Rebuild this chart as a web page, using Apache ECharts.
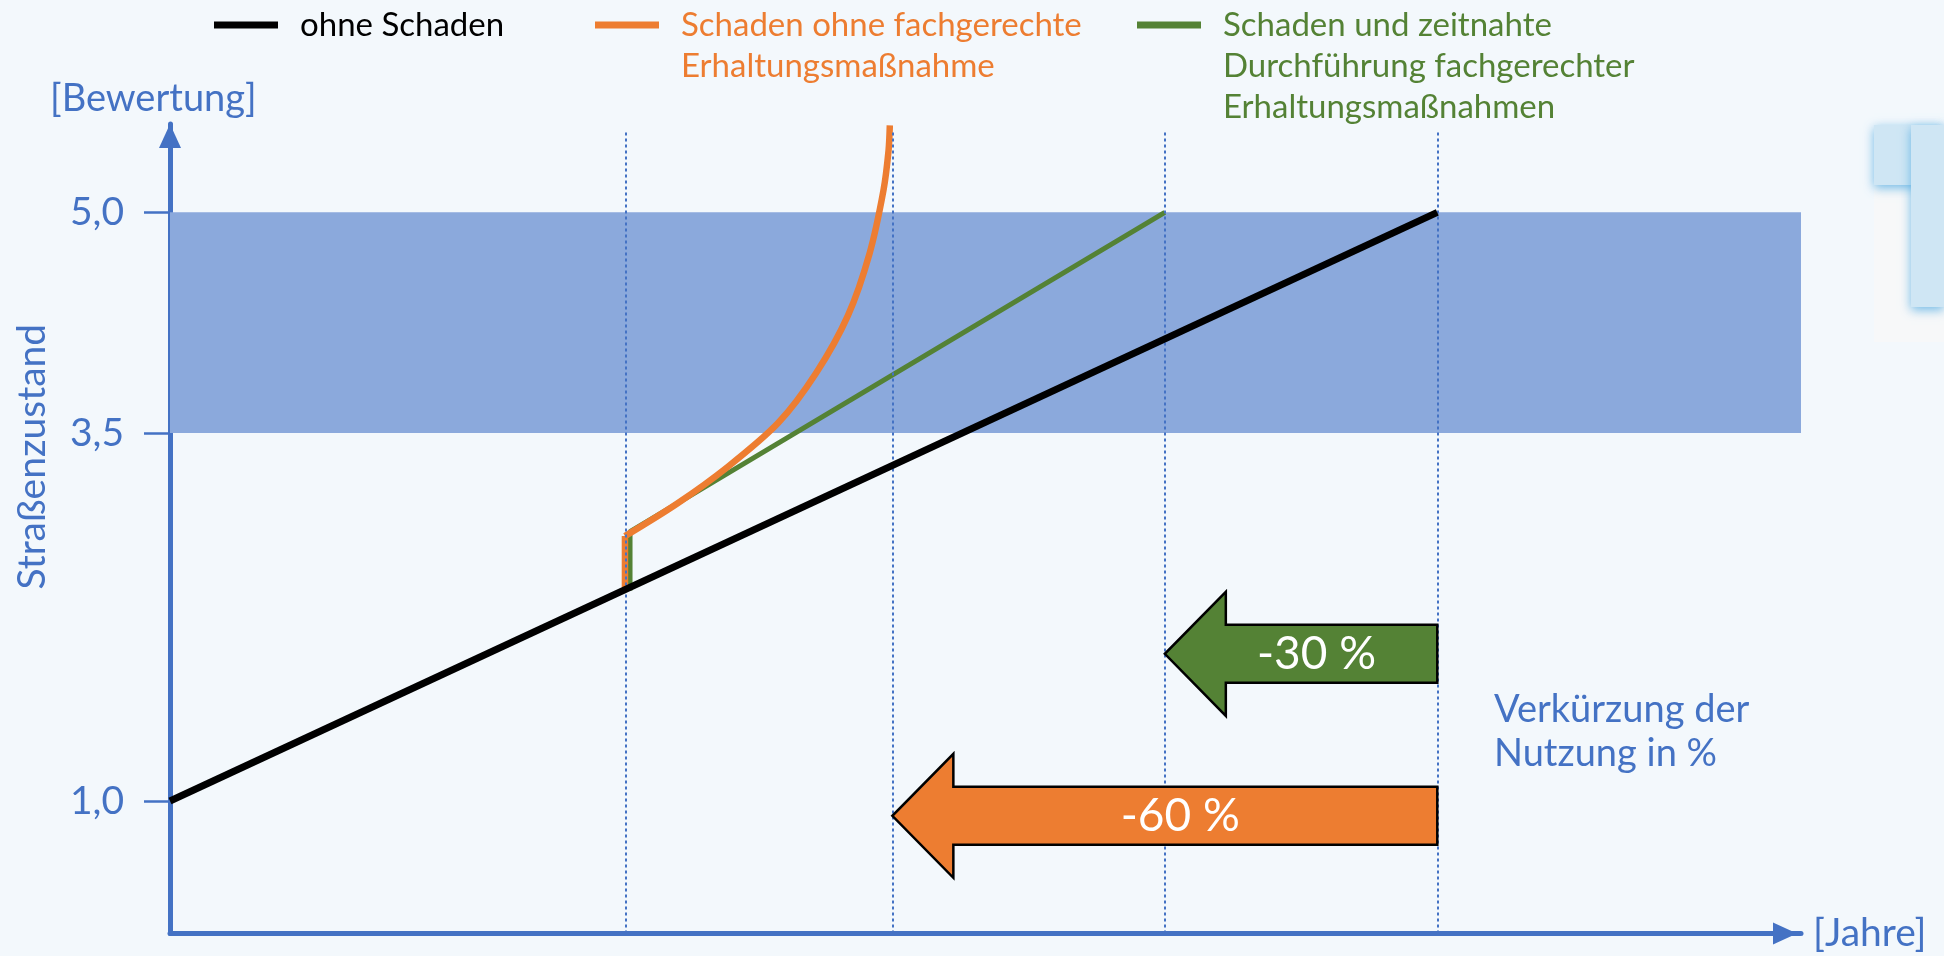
<!DOCTYPE html>
<html><head><meta charset="utf-8">
<script src="https://cdn.jsdelivr.net/npm/echarts@6/dist/echarts.min.js"></script>
<style>html,body{margin:0;padding:0;background:#F3F8FC;} #chart{width:1944px;height:956px;}</style>
</head><body><div id="chart"></div>
<script>
// ---- data ----
const seriesNames = ['ohne Schaden', 'Schaden ohne fachgerechte\nErhaltungsmaßnahme', 'Schaden und zeitnahte\nDurchführung fachgerechter\nErhaltungsmaßnahmen'];
const seriesColors = ['#000000', '#ED7D31', '#548235'];
const ohneSchaden = [[0, 1.0], [100, 5.0]];
const schadenOhneSprung = [[35.9, 2.45], [35.9, 2.80]];
const schadenOhneKurve = [[35.9, 2.80], [40, 3.02], [44, 3.27], [48, 3.57], [51, 3.91], [53.5, 4.30], [55.2, 4.72], [56.3, 5.15], [56.7, 5.42], [56.8, 5.59]];
const schadenMit = [[36.3, 2.43], [36.3, 2.83], [78.5, 5.0]];
const yTicks = [1.0, 3.5, 5.0];
const zeitpunkte = [36, 57, 78.5, 100];
const bandRange = [3.5, 5.0];
const arrowStart = [100, 100];
const arrowEnd = [78.5, 57];
const arrowLevel = [2.0, 0.9];
const arrowLabels = ['-30 %', '-60 %'];
const arrowColors = ['#548235', '#ED7D31'];
const yAxisTitle = '[Bewertung]';
const yAxisName = 'Straßenzustand';
const xAxisName = '[Jahre]';
const noteText = 'Verkürzung der\nNutzung in %';

// ---- styles ----
const FONT = 'Lato, "Open Sans", sans-serif';
const BLUE = '#4472C4';
const X_MAX = 128.7, Y_MIN = 0.1, Y_MAX = 5.6;

const chart = echarts.init(document.getElementById('chart'));

const legendLefts = [214, 595, 1137];
const LH = 41;
const legends = seriesNames.map((n, i) => {
  const lines = n.split('\n').length;
  const total = 2 * lines - 1;
  return {
    left: legendLefts[i], top: 25 - total * LH / 2, padding: 0,
    icon: 'rect', itemWidth: 64, itemHeight: 7, itemGap: 0, selectedMode: false,
    data: [{ name: n, itemStyle: { color: seriesColors[i] } }],
    formatter: name => '\n'.repeat(lines - 1) + name,
    textStyle: { color: seriesColors[i], fontSize: 33, fontFamily: FONT, lineHeight: LH, padding: [0, 0, 0, 17] }
  };
});

const option = {
  backgroundColor: '#F3F8FC',
  animation: false,
  title: { text: yAxisTitle, left: 50, top: 74, padding: 0,
    textStyle: { color: BLUE, fontSize: 38, fontWeight: 'normal', fontFamily: FONT, lineHeight: 50 } },
  legend: legends,
  grid: { left: 170, right: 1944 - 1801, top: 124, bottom: 956 - 933.5, containLabel: false, outerBoundsMode: 'none' },
  xAxis: {
    type: 'value', min: 0, max: X_MAX,
    name: xAxisName, nameLocation: 'end', nameGap: 12,
    nameTextStyle: { color: BLUE, fontSize: 39, fontFamily: FONT },
    axisLine: { show: true, onZero: false, lineStyle: { color: BLUE, width: 5 }, symbol: ['none', 'triangle'], symbolSize: [22, 24], symbolOffset: [0, -16] },
    axisTick: { show: false }, axisLabel: { show: false }, splitLine: { show: false }
  },
  yAxis: {
    type: 'value', min: Y_MIN, max: Y_MAX,
    name: yAxisName, nameLocation: 'middle', nameGap: 118, nameRotate: 90,
    nameTextStyle: { color: BLUE, fontSize: 39, fontFamily: FONT, padding: [0, 0, 0, 144] },
    axisLine: { show: true, onZero: false, lineStyle: { color: BLUE, width: 5 }, symbol: ['none', 'triangle'], symbolSize: [22, 24], symbolOffset: [0, -12] },
    axisTick: { show: true, customValues: yTicks, length: 26, lineStyle: { color: BLUE, width: 2.5 } },
    axisLabel: { show: true, customValues: yTicks, margin: 46, color: BLUE, fontSize: 39, fontFamily: FONT,
      formatter: v => v.toFixed(1).replace('.', ',') },
    splitLine: { show: false }
  },
  graphic: [
    { type: 'text', left: 1494, top: 688, style: { text: noteText, fill: BLUE, fontSize: 38, fontFamily: FONT, lineHeight: 44 } },
    { type: 'rect', shape: { x: 1874, y: 185, width: 70, height: 157 }, style: { fill: '#F7F8F9' }, silent: true },
    { type: 'rect', shape: { x: 1874, y: 125, width: 70, height: 60 }, style: { fill: '#CFE6F4', shadowBlur: 10, shadowColor: 'rgba(80,170,225,0.8)', shadowOffsetY: 3 }, silent: true },
    { type: 'rect', shape: { x: 1911, y: 125, width: 33, height: 182 }, style: { fill: '#CFE6F4', shadowBlur: 10, shadowColor: 'rgba(80,170,225,0.8)', shadowOffsetY: 3 }, silent: true }
  ],
  series: [
    {
      name: 'band', type: 'line', data: [], z: 1, silent: true,
      markArea: { silent: true, itemStyle: { color: '#8BA9DC' },
        data: [[{ coord: [0, bandRange[0]] }, { coord: [X_MAX, bandRange[1]] }]] },
      markLine: { silent: true, symbol: 'none', label: { show: false },
        lineStyle: { color: BLUE, type: [3, 3], width: 2 },
        data: zeitpunkte.map(x => [{ coord: [x, Y_MIN] }, { coord: [x, 5.55] }]) }
    },
    { name: seriesNames[2], type: 'line', data: schadenMit, z: 3, showSymbol: false, symbol: 'none',
      lineStyle: { color: seriesColors[2], width: 5 }, itemStyle: { color: seriesColors[2] } },
    { name: seriesNames[1], type: 'line', data: schadenOhneSprung, z: 4, showSymbol: false, symbol: 'none',
      lineStyle: { color: seriesColors[1], width: 6.5 }, itemStyle: { color: seriesColors[1] } },
    { name: seriesNames[1], type: 'line', data: schadenOhneKurve, z: 4, showSymbol: false, symbol: 'none', smooth: 0.3,
      lineStyle: { color: seriesColors[1], width: 6.5 }, itemStyle: { color: seriesColors[1] } },
    { name: seriesNames[0], type: 'line', data: ohneSchaden, z: 5, showSymbol: false, symbol: 'none',
      lineStyle: { color: seriesColors[0], width: 7 }, itemStyle: { color: seriesColors[0] } },
    {
      name: 'Verkürzung', type: 'custom', z: 6, silent: true,
      data: arrowStart.map((s, i) => [s, arrowEnd[i], arrowLevel[i], i]),
      encode: { x: [0, 1], y: 2 },
      renderItem(params, api) {
        const tail = api.coord([api.value(0), api.value(2)]);
        const tip = api.coord([api.value(1), api.value(2)]);
        const i = api.value(3);
        const bh = 29, hh = 62, hl = 61;
        const baseX = tip[0] + hl, y = tip[1];
        const pts = [[tail[0], y - bh], [baseX, y - bh], [baseX, y - hh], [tip[0], y], [baseX, y + hh], [baseX, y + bh], [tail[0], y + bh]];
        return { type: 'group', children: [
          { type: 'polygon', shape: { points: pts }, style: { fill: arrowColors[i], stroke: '#000', lineWidth: 2.5 } },
          { type: 'text', x: (baseX + tail[0]) / 2 - 15, y: y,
            style: { text: arrowLabels[i], fill: '#fff', fontSize: 46, fontFamily: FONT, align: 'center', verticalAlign: 'middle' } }
        ] };
      }
    }
  ]
};
chart.setOption(option);
</script></body></html>
